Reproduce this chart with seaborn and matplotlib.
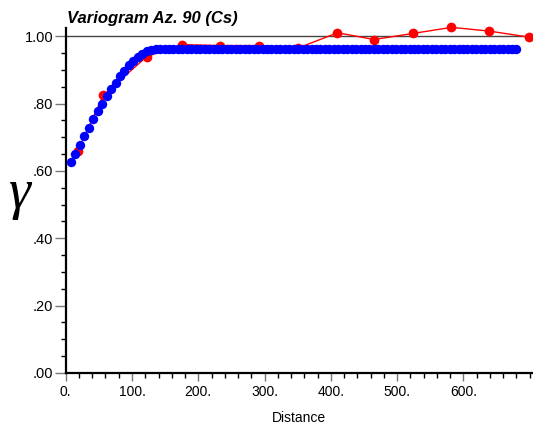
import numpy as np
import pandas as pd
import matplotlib
matplotlib.use("Agg")
import matplotlib.pyplot as plt
from matplotlib.ticker import MultipleLocator, FixedLocator
import seaborn as sns

# experimental variogram points (red)
exp_dist = [18, 57, 122, 175, 233, 292, 351, 410, 465, 524, 582, 639, 699]
exp_gamma = [0.66, 0.825, 0.939, 0.975, 0.972, 0.972, 0.965, 1.010, 0.990, 1.008, 1.026, 1.015, 0.997]

# model curve (blue), evenly spaced lags
model_rise = [0.625, 0.651, 0.677, 0.703, 0.728, 0.753, 0.777, 0.800, 0.822, 0.843,
              0.862, 0.881, 0.897, 0.913, 0.926, 0.938, 0.947, 0.955, 0.960, 0.962]
model_gamma = model_rise + [0.963] * 81
model_dist = np.linspace(8, 680, len(model_gamma))

x_ticks = [0, 100, 200, 300, 400, 500, 600]
x_labels = ["0.", "100.", "200.", "300.", "400.", "500.", "600."]
y_ticks = [0.0, 0.2, 0.4, 0.6, 0.8, 1.0]
y_labels = [".00", ".20", ".40", ".60", ".80", "1.00"]

exp_df = pd.DataFrame({"dist": exp_dist, "gamma": exp_gamma})
model_df = pd.DataFrame({"dist": model_dist, "gamma": model_gamma})

sns.set_theme(style="white")
plt.rcParams['font.family'] = ['Liberation Sans', 'DejaVu Sans']
plt.rcParams['text.color'] = 'black'

fig = plt.figure(figsize=(5.33, 4.25), dpi=100)
ax = fig.add_axes([0.1233, 0.1224, 0.8767, 0.8116])

ax.axhline(1.0, color="#444444", lw=1.0, zorder=1)

sns.lineplot(data=exp_df, x="dist", y="gamma", ax=ax, color="red", lw=1.0,
             marker="o", markersize=7, markeredgewidth=0, clip_on=False, zorder=2)
sns.scatterplot(data=model_df, x="dist", y="gamma", ax=ax, color="blue", s=46,
                linewidth=0, clip_on=False, zorder=3)

ax.set_xlim(0, 705)
ax.set_ylim(0, 1.024)

ax.xaxis.set_major_locator(FixedLocator(x_ticks))
ax.set_xticklabels(x_labels)
ax.xaxis.set_minor_locator(MultipleLocator(20))
ax.yaxis.set_major_locator(FixedLocator(y_ticks))
ax.set_yticklabels(y_labels)
ax.yaxis.set_minor_locator(MultipleLocator(0.05))

ax.tick_params(axis="x", which="major", direction="out", length=6, width=1, color="#777777",
               labelsize=10, labelcolor="black", pad=3, bottom=True)
ax.tick_params(axis="x", which="minor", direction="out", length=3.5, width=1, color="black", bottom=True)
ax.tick_params(axis="y", which="major", direction="out", length=8, width=1, color="#777777",
               labelsize=10.5, labelcolor="black", pad=1, left=True)
ax.tick_params(axis="y", which="minor", direction="out", length=3.5, width=1, color="black", left=True)

for side in ["top", "right"]:
    ax.spines[side].set_visible(False)
for side in ["left", "bottom"]:
    ax.spines[side].set_color("black")
    ax.spines[side].set_linewidth(1.6)

ax.set_xlabel("")
ax.set_ylabel("")
fig.text(299 / 533, 1 - 418 / 425, "Distance", fontsize=10, ha="center", va="center")

fig.text(67 / 533, 1 - 18 / 425, "Variogram Az. 90 (Cs)", fontsize=12,
         fontweight="bold", fontstyle="italic", ha="left", va="center")
fig.text(20 / 533, 1 - 194 / 425, "γ", fontsize=40, fontstyle="italic",
         family=["Liberation Serif", "DejaVu Serif"], ha="center", va="center")

fig.savefig("out.png", dpi=100)
